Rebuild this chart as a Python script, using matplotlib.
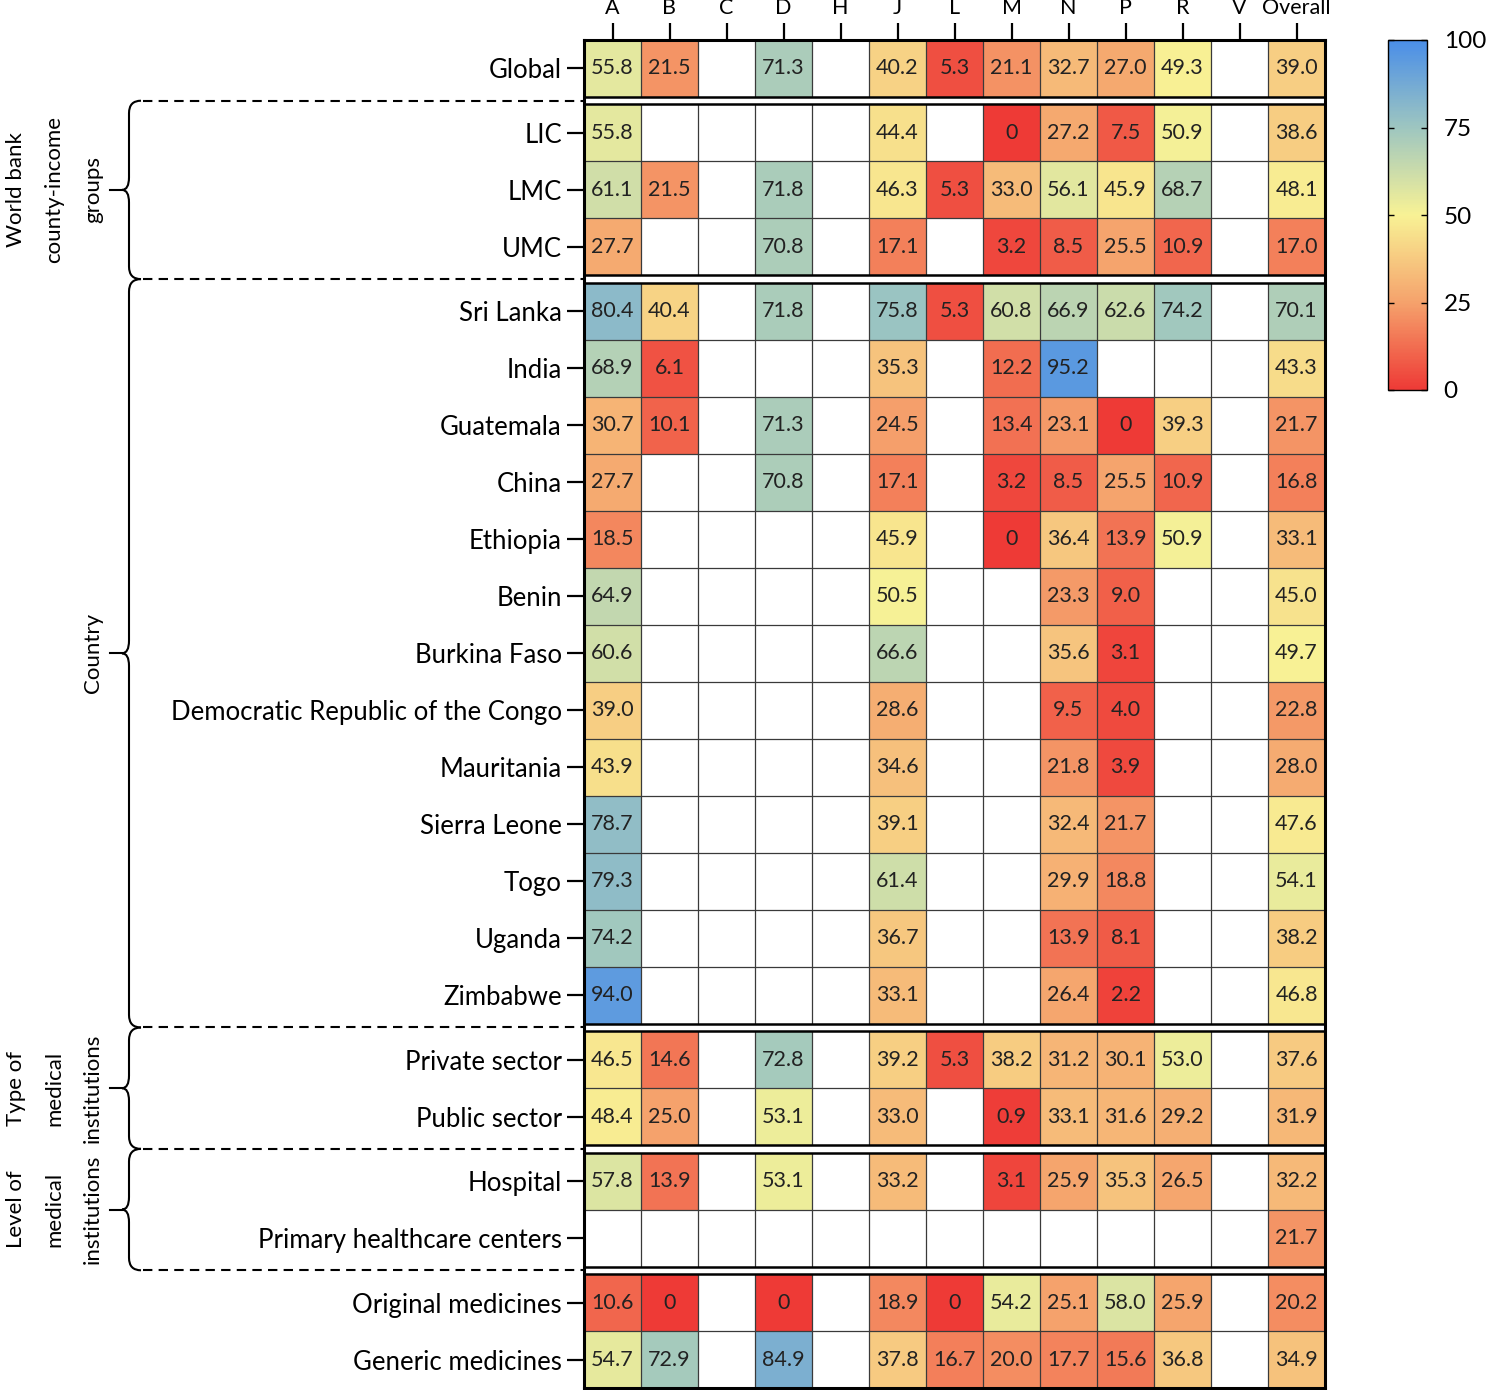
import numpy as np
import matplotlib
matplotlib.use("Agg")
import matplotlib.pyplot as plt
from matplotlib.colors import LinearSegmentedColormap, Normalize
from matplotlib.path import Path
from matplotlib.patches import PathPatch
import matplotlib.transforms as mtransforms

plt.rcParams['font.family'] = ['Lato', 'DejaVu Sans']

N = np.nan
columns = ['A', 'B', 'C', 'D', 'H', 'J', 'L', 'M', 'N', 'P', 'R', 'V', 'Overall']

# blocks of rows (labels, values)
global_labels = ['Global']
global_vals = [[55.8, 21.5, N, 71.3, N, 40.2, 5.3, 21.1, 32.7, 27.0, 49.3, N, 39.0]]

income_labels = ['LIC', 'LMC', 'UMC']
income_vals = [
    [55.8, N, N, N, N, 44.4, N, 0, 27.2, 7.5, 50.9, N, 38.6],
    [61.1, 21.5, N, 71.8, N, 46.3, 5.3, 33.0, 56.1, 45.9, 68.7, N, 48.1],
    [27.7, N, N, 70.8, N, 17.1, N, 3.2, 8.5, 25.5, 10.9, N, 17.0],
]

country_labels = ['Sri Lanka', 'India', 'Guatemala', 'China', 'Ethiopia', 'Benin',
                  'Burkina Faso', 'Democratic Republic of the Congo', 'Mauritania',
                  'Sierra Leone', 'Togo', 'Uganda', 'Zimbabwe']
country_vals = [
    [80.4, 40.4, N, 71.8, N, 75.8, 5.3, 60.8, 66.9, 62.6, 74.2, N, 70.1],
    [68.9, 6.1, N, N, N, 35.3, N, 12.2, 95.2, N, N, N, 43.3],
    [30.7, 10.1, N, 71.3, N, 24.5, N, 13.4, 23.1, 0, 39.3, N, 21.7],
    [27.7, N, N, 70.8, N, 17.1, N, 3.2, 8.5, 25.5, 10.9, N, 16.8],
    [18.5, N, N, N, N, 45.9, N, 0, 36.4, 13.9, 50.9, N, 33.1],
    [64.9, N, N, N, N, 50.5, N, N, 23.3, 9.0, N, N, 45.0],
    [60.6, N, N, N, N, 66.6, N, N, 35.6, 3.1, N, N, 49.7],
    [39.0, N, N, N, N, 28.6, N, N, 9.5, 4.0, N, N, 22.8],
    [43.9, N, N, N, N, 34.6, N, N, 21.8, 3.9, N, N, 28.0],
    [78.7, N, N, N, N, 39.1, N, N, 32.4, 21.7, N, N, 47.6],
    [79.3, N, N, N, N, 61.4, N, N, 29.9, 18.8, N, N, 54.1],
    [74.2, N, N, N, N, 36.7, N, N, 13.9, 8.1, N, N, 38.2],
    [94.0, N, N, N, N, 33.1, N, N, 26.4, 2.2, N, N, 46.8],
]

type_labels = ['Private sector', 'Public sector']
type_vals = [
    [46.5, 14.6, N, 72.8, N, 39.2, 5.3, 38.2, 31.2, 30.1, 53.0, N, 37.6],
    [48.4, 25.0, N, 53.1, N, 33.0, N, 0.9, 33.1, 31.6, 29.2, N, 31.9],
]

level_labels = ['Hospital', 'Primary healthcare centers']
level_vals = [
    [57.8, 13.9, N, 53.1, N, 33.2, N, 3.1, 25.9, 35.3, 26.5, N, 32.2],
    [N, N, N, N, N, N, N, N, N, N, N, N, 21.7],
]

medicine_labels = ['Original medicines', 'Generic medicines']
medicine_vals = [
    [10.6, 0, N, 0, N, 18.9, 0, 54.2, 25.1, 58.0, 25.9, N, 20.2],
    [54.7, 72.9, N, 84.9, N, 37.8, 16.7, 20.0, 17.7, 15.6, 36.8, N, 34.9],
]

blocks = [(global_labels, global_vals), (income_labels, income_vals),
          (country_labels, country_vals), (type_labels, type_vals),
          (level_labels, level_vals), (medicine_labels, medicine_vals)]

groups = [(1, 'World bank\ncounty-income\ngroups'), (2, 'Country'),
          (3, 'Type of\nmedical\ninstitutions'), (4, 'Level of\nmedical\ninstitutions')]

cmap = LinearSegmentedColormap.from_list(
    'rdylbu_soft',
    [(0.0, '#ee3a36'), (0.25, '#f5a26c'), (0.5, '#f8f295'),
     (0.75, '#9ec6c0'), (1.0, '#4a8ee8')])
norm = Normalize(0, 100)

fig = plt.figure(figsize=(14.89, 13.90), dpi=100)
ax = fig.add_axes([584 / 1489, 2 / 1390, 741 / 1489, 1348 / 1390])

gap = 0.13
ncol = len(columns)
xedges = np.arange(ncol + 1)

y = 0.0
block_spans = []
tick_pos, tick_lab = [], []
for labels, vals in blocks:
    arr = np.ma.masked_invalid(np.array(vals, dtype=float))
    yedges = y + np.arange(len(labels) + 1)
    ax.pcolormesh(xedges, yedges, arr, cmap=cmap, norm=norm, edgecolors='none')
    for i, lab in enumerate(labels):
        yc = y + i + 0.5
        tick_pos.append(yc)
        tick_lab.append(lab)
        for j in range(ncol):
            v = vals[i][j]
            if not np.isnan(v):
                s = '0' if v == 0 else '%.1f' % v
                ax.text(j + 0.5, yc, s, ha='center', va='center',
                        fontsize=15.5, color='#222222')
    # inner grid
    ax.vlines(xedges[1:-1], y, y + len(labels), color='#3a3a3a', lw=0.9)
    ax.hlines(yedges[1:-1], 0, ncol, color='#3a3a3a', lw=0.9)
    ax.hlines([y, y + len(labels)], 0, ncol, color='black', lw=1.8)
    block_spans.append((y, y + len(labels)))
    y += len(labels) + gap
total = y - gap

ax.set_xlim(0, ncol)
ax.set_ylim(total, 0)
for sp in ax.spines.values():
    sp.set_linewidth(2.2)

ax.xaxis.tick_top()
ax.set_xticks(np.arange(ncol) + 0.5)
ax.set_xticklabels(columns, fontsize=15.5)
ax.set_yticks(tick_pos)
ax.set_yticklabels(tick_lab, fontsize=18.5)
ax.tick_params(axis='both', length=12, width=1.6, color='black', pad=4)

# braces and dashed separators on the left
trans = mtransforms.blended_transform_factory(fig.transFigure, ax.transData)
x0 = 129 / 1489
d = 12 / 1489
c = 7 / 1489
r = 0.22
bounds = [block_spans[k][1] + gap / 2 for k in range(len(block_spans) - 1)]
for b in bounds:
    ax.plot([143 / 1489, 584 / 1489], [b, b], transform=trans, color='black',
            lw=1.5, ls=(0, (4.5, 3)), clip_on=False)

for k, text in groups:
    ytop = block_spans[k][0] - gap / 2
    ybot = block_spans[k][1] + gap / 2
    ymid = (ytop + ybot) / 2
    verts = [(x0 + d, ytop), (x0, ytop), (x0, ytop + r),
             (x0, ymid - r), (x0, ymid), (x0 - c, ymid),
             (x0, ymid), (x0, ymid + r),
             (x0, ybot - r), (x0, ybot), (x0 + d, ybot)]
    codes = [Path.MOVETO, Path.CURVE3, Path.CURVE3,
             Path.LINETO, Path.CURVE3, Path.CURVE3,
             Path.CURVE3, Path.CURVE3,
             Path.LINETO, Path.CURVE3, Path.CURVE3]
    patch = PathPatch(Path(verts, codes), transform=trans, fill=False,
                      lw=1.5, edgecolor='black', clip_on=False)
    fig.add_artist(patch)
    ax.plot([x0 - c - 12 / 1489, x0 - c], [ymid, ymid], transform=trans,
            color='black', lw=1.5, clip_on=False)
    ax.text(103 / 1489, ymid, text, transform=trans, rotation=90, ha='right',
            va='center', multialignment='center', fontsize=16, linespacing=2.15)

# colorbar
cax = fig.add_axes([1388 / 1489, 1 - 390 / 1390, 39 / 1489, 350 / 1390])
sm = plt.cm.ScalarMappable(norm=norm, cmap=cmap)
cb = fig.colorbar(sm, cax=cax, ticks=[0, 25, 50, 75, 100])
cb.outline.set_linewidth(1.0)
cax.tick_params(direction='in', left=True, right=True, labelright=True,
                length=4, width=1, labelsize=17.5, pad=12)

fig.savefig('out.png', dpi=100)
